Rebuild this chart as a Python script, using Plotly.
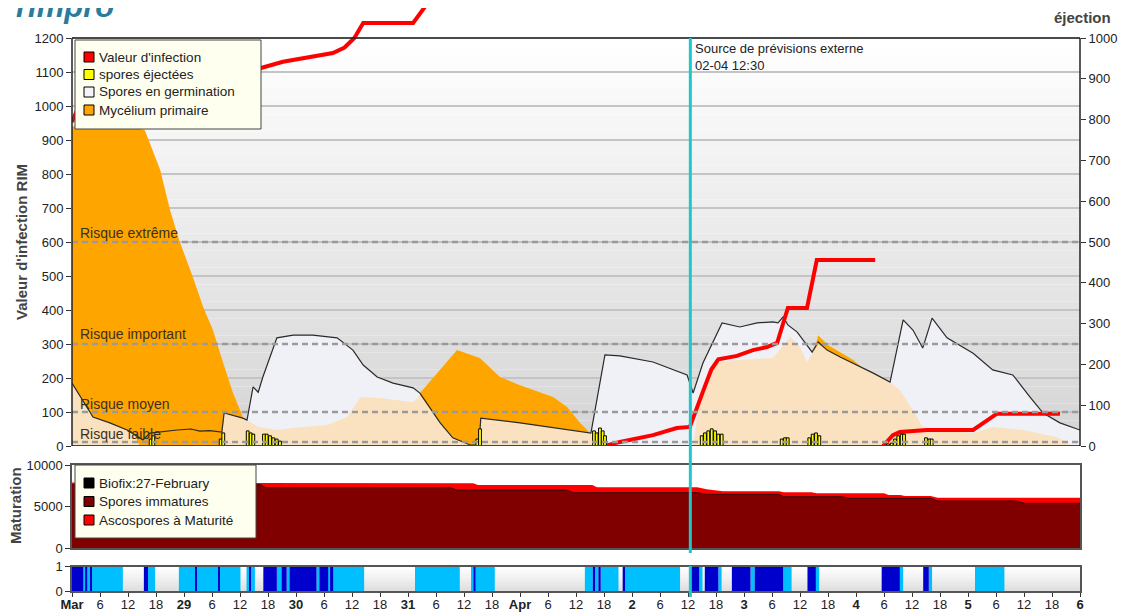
import numpy as np
import pandas as pd
import plotly.graph_objects as go

# ---------------- data (time in hours since 28 Mar 2024 00:00) ----------------
START = pd.Timestamp("2024-03-28 00:00")
END = pd.Timestamp("2024-04-06 00:00")
FORECAST = pd.Timestamp("2024-04-02 12:30")

# Spores en germination (black outline, light fill)
germ_h = [0, 4.5, 8.1, 11.8, 15.2, 16.7, 22.5, 25.5, 27.4, 29.5, 32.1, 32.6, 36.6, 37.5, 38.8, 39.9,
          40.9, 43.9, 47.4, 51.6, 56.8, 60.2, 62.4, 65.4, 68.8, 73.1, 74.6, 78.9, 81.6, 85.3, 87.2,
          87.6, 96.0, 103.1, 111.2, 114.2, 117.4, 124.5, 131.8, 133.1, 135.2, 139.3, 143.1, 146.8,
          150.2, 151.3, 152.4, 153.4, 155.4, 158.6, 159.9, 161.8, 164.6, 171.6, 174.6, 175.3, 178.1,
          180.2, 182.3, 184.3, 187.5, 193.1, 197.3, 201.6, 205.3, 208.1, 211.7, 216]
germ_v = [185, 85, 68, 47, 18, 38, 47, 50, 44, 45, 41, 97, 82, 76, 174, 158,
          203, 318, 326, 326, 318, 282, 238, 203, 185, 171, 155, 68, 24, 3, 3,
          82, 68, 53, 38, 268, 265, 247, 209, 156, 244, 362, 350, 362,
          365, 362, 380, 356, 335, 276, 306, 282, 262, 215, 194, 188, 371,
          341, 288, 376, 318, 273, 224, 209, 144, 97, 68, 47]

# light orange area
peach_h = [0, 4.5, 8.1, 11.8, 13.5, 14.5, 32.0, 32.6, 36.6, 37.5, 40.0, 43.9, 47.4, 54.7, 59.0,
           61.8, 66.1, 73.1, 74.6, 78.9, 81.6, 85.3, 87.2, 87.6, 96.0, 103.1, 111.2, 111.6, 133.1,
           134.6, 137.4, 142.5, 150.2, 153.9, 156.0, 157.5, 159.9, 161.8, 164.6, 171.6, 174.6,
           177.4, 180.2, 182.3, 186.0, 193.1, 197.3, 203.8, 211.1, 213.2, 214.3, 216]
peach_v = [185, 85, 68, 47, 30, 0, 0, 97, 82, 76, 56, 47, 53, 62, 85,
           144, 141, 129, 150, 68, 24, 3, 3, 82, 68, 53, 38, 0, 0,
           150, 244, 253, 259, 321, 291, 247, 300, 282, 262, 215, 194,
           165, 106, 56, 47, 38, 56, 47, 26, 9, 0, 0]

# Mycélium primaire
myc_h = [0, 8, 12, 15.6, 18.9, 21.0, 23.1, 25.9, 28.1, 30.2, 32.4, 34.5, 36.0, 36.6, 37.2, 74.5,
         74.6, 78.9, 82.5, 87.4, 91.7, 96.0, 103.1, 106.1, 108.9, 111.0, 111.3, 158.6, 159.0,
         159.9, 162.0, 164.6, 167.4, 170.4, 171.3, 171.5, 216]
myc_v = [940, 950, 945, 929, 812, 694, 600, 497, 409, 341, 244, 156, 106, 85, 0, 0,
         156, 224, 282, 259, 203, 179, 144, 115, 68, 38, 0, 0, 280,
         326, 297, 276, 253, 218, 212, 0, 0]

# Valeur d'infection (three infection periods)
inf1_h = [0, 1.1, 3, 10, 25, 40.5, 45.2, 55.9, 58.4, 60.5, 62.4, 73.1, 76.7, 78.5]
inf1_v = [953, 988, 1010, 1050, 1085, 1112, 1130, 1156, 1172, 1200, 1244, 1244, 1312, 1380]
inf2_h = [114.2, 117.4, 124.5, 129.6, 132.4, 133.5, 135.2, 137.0, 138.5, 142.5, 145.9, 148.9,
          151.1, 153.4, 157.5, 159.6, 172.1]
inf2_v = [0, 12, 32, 53, 56, 100, 160, 225, 255, 265, 282, 291, 303, 406, 406, 547, 547]
inf3_h = [173.8, 175.9, 177.4, 183.2, 193.1, 196.1, 198.2, 211.7]
inf3_v = [0, 32, 41, 47, 47, 76, 95, 95]

# spores éjectées (right axis)
spore_h = [16.86, 17.42, 31.86, 32.42, 37.65, 38.29, 38.85, 41.14, 41.72, 42.43, 43.14, 43.86,
           44.57, 86.85, 87.43, 111.86, 112.43, 113.14, 113.72, 114.21, 134.94, 135.64, 136.35,
           137.08, 137.79, 138.49, 139.22, 152.08, 152.79, 153.36, 157.99, 158.72, 159.43,
           160.14, 174.86, 175.65, 176.36, 177.06, 177.79, 178.29, 183.0, 183.71, 184.22]
spore_v = [17, 25, 17, 32, 37, 32, 29, 29, 29, 25, 20, 17,
           12, 17, 42, 37, 32, 44, 37, 25, 25, 32, 37,
           42, 37, 29, 29, 17, 20, 20, 20, 29, 32,
           25, 5, 7, 17, 25, 29, 29, 20, 17, 17]

# Maturation
mat_h = [0, 40.5, 41.5, 81.0, 82.5, 86.0, 87.0, 106.0, 107.5, 111.5, 112.5, 134.0, 136.0, 138.0,
         139.5, 151.5, 152.5, 158.5, 159.5, 165.0, 166.5, 174.0, 175.0, 177.5, 178.5, 184.0,
         185.5, 202.5, 204.0, 216]
mat_total = [7890, 7890, 7800, 7800, 7800, 7800, 7600, 7600, 7600, 7600, 7320, 7320, 7100, 7000,
             6850, 6850, 6720, 6720, 6600, 6600, 6600, 6600, 6400, 6400, 6280, 6280,
             6080, 6080, 6080, 6080]
mat_immature = [7620, 7620, 7280, 7280, 7000, 7000, 7000, 7000, 6680, 6680, 6680, 6680, 6480, 6480,
                6480, 6480, 6200, 6200, 6200, 6200, 6000, 6000, 6000, 6000, 6000, 6000,
                5680, 5680, 5400, 5400]

# Leaf wetness strip
wet_start = [0.0, 2.4, 2.8, 3.3, 3.9, 4.3, 15.4, 16.3, 22.9, 26.4, 26.8, 31.3, 31.7, 37.4, 38.0,
             38.3, 41.0, 43.9, 44.9, 46.0, 46.6, 52.4, 53.0, 54.9, 55.3, 56.0, 73.5, 85.6, 86.0,
             86.5, 109.9, 111.6, 112.1, 112.8, 113.3, 118.0, 118.5, 132.4, 134.4, 135.6, 138.5,
             141.4, 145.4, 146.3, 152.4, 157.6, 159.4, 173.5, 177.4, 182.4, 183.6, 193.5]
wet_end = [2.4, 2.8, 3.3, 3.9, 4.3, 10.9, 16.3, 17.8, 26.4, 26.8, 31.3, 31.7, 36.1, 38.0, 38.3,
           39.2, 43.9, 44.9, 46.0, 46.6, 52.4, 53.0, 54.9, 55.3, 56.0, 62.6, 83.1, 86.0, 86.5,
           90.6, 111.6, 112.1, 112.8, 113.3, 117.1, 118.5, 130.3, 134.4, 135.1, 138.5, 139.2,
           145.4, 146.3, 152.4, 154.2, 159.4, 160.1, 177.4, 178.1, 183.6, 184.3, 199.8]
wet_kind = ["D", "L", "D", "L", "D", "L", "D", "L", "L", "D", "L", "D", "L", "L", "D",
            "L", "D", "L", "D", "L", "D", "L", "D", "L", "D", "L", "L", "L", "D",
            "L", "L", "D", "L", "D", "L", "D", "L", "D", "L", "D", "L",
            "D", "L", "D", "L", "D", "L", "D", "L", "D", "L", "L"]

risk_levels = [600, 300, 100, 12]
risk_labels = ["Risque extrême", "Risque important", "Risque moyen", "Risque faible"]
risk_label_y = [626, 329, 124, 35]

legend1_names = ["Valeur d'infection", "spores éjectées", "Spores en germination", "Mycélium primaire"]
legend1_colors = ["#FF0000", "#FFFF00", "#F4F4F8", "#FFA500"]
legend2_names = ["Biofix:27-February", "Spores immatures", "Ascospores à Maturité"]
legend2_colors = ["#000000", "#800000", "#FF0000"]

tick_hours = list(range(0, 217, 6))
day_labels = {0: "Mar", 24: "29", 48: "30", 72: "31", 96: "Apr", 120: "2", 144: "3", 168: "4",
              192: "5", 216: "6"}


def T(hours):
    return [START + pd.Timedelta(hours=float(h)) for h in hours]


# ---------------- geometry (page pixels -> paper); page has an 8px body margin ----------------
OFF = 8
W, H = 1132 - OFF, 614 - OFF
PLOT_L, PLOT_R = 72, 1080           # page px
PLOT_T, PLOT_B = 8, 591             # page px (top of figure .. bottom of strip)
ML, MR = PLOT_L - OFF, 1132 - PLOT_R
MT, MB = PLOT_T - OFF, 614 - PLOT_B
PW, PH = PLOT_R - PLOT_L, PLOT_B - PLOT_T


def pyp(p):
    return (PLOT_B - p) / PH


def pxp(p):
    return (p - PLOT_L) / PW


MAIN_TOP_PX, MAIN_BOT_PX = 38, 446
scale = (MAIN_BOT_PX - MAIN_TOP_PX) / 1200.0
y_top = (MAIN_BOT_PX - PLOT_T) / scale
y2_top = y_top * 1000 / 1200

FONT = "Arial, Liberation Sans, sans-serif"
fig = go.Figure()

# --- main panel ---
fig.add_trace(go.Scatter(x=T(germ_h), y=germ_v, mode="lines", fill="tozeroy",
                         fillcolor="#F0F0F7", line=dict(width=0), showlegend=False,
                         hoverinfo="skip"))
fig.add_trace(go.Scatter(x=T(myc_h), y=myc_v, mode="lines", fill="tozeroy",
                         fillcolor="#FFA500", line=dict(width=0), showlegend=False,
                         hoverinfo="skip"))
fig.add_trace(go.Scatter(x=T(peach_h), y=peach_v, mode="lines", fill="tozeroy",
                         fillcolor="#FAE2C0", line=dict(width=0), showlegend=False,
                         hoverinfo="skip"))
fig.add_trace(go.Scatter(x=T(germ_h), y=germ_v, mode="lines",
                         line=dict(color="#2a2a2a", width=1.2), showlegend=False,
                         hoverinfo="skip"))

inf_x = T(inf1_h) + [None] + T(inf2_h) + [None] + T(inf3_h)
inf_y = inf1_v + [None] + inf2_v + [None] + inf3_v
fig.add_trace(go.Scatter(x=inf_x, y=inf_y, mode="lines", connectgaps=False,
                         line=dict(color="#FF0000", width=4), showlegend=False,
                         hoverinfo="skip"))

fig.add_trace(go.Bar(x=T(spore_h), y=spore_v, yaxis="y2", width=0.6 * 3600 * 1000,
                     marker=dict(color="#FFFF00", line=dict(color="#000000", width=1)),
                     showlegend=False, hoverinfo="skip"))

# --- maturation panel ---
fig.add_trace(go.Scatter(x=T(mat_h), y=mat_total, xaxis="x2", yaxis="y3", mode="lines",
                         fill="tozeroy", fillcolor="#FF0000", line=dict(width=0, color="#FF0000"),
                         showlegend=False, hoverinfo="skip"))
fig.add_trace(go.Scatter(x=T(mat_h), y=mat_immature, xaxis="x2", yaxis="y3", mode="lines",
                         fill="tozeroy", fillcolor="#800000", line=dict(width=0.8, color="#1a0000"),
                         showlegend=False, hoverinfo="skip"))

# --- wetness strip ---
wet_colors = {"D": "#0000CD", "L": "#00BFFF"}
for kind in ["L", "D"]:
    idx = [i for i, k in enumerate(wet_kind) if k == kind]
    mids = [START + pd.Timedelta(hours=(wet_start[i] + wet_end[i]) / 2) for i in idx]
    widths = [(wet_end[i] - wet_start[i]) * 3600 * 1000 for i in idx]
    fig.add_trace(go.Bar(x=mids, y=[1] * len(idx), width=widths, xaxis="x3", yaxis="y4",
                         marker=dict(color=wet_colors[kind], line=dict(width=0)),
                         showlegend=False, hoverinfo="skip"))

# ---------------- shapes ----------------
shapes = []
N = 48
for i in range(N):
    g = int(round(212 + (255 - 212) * (i + 0.5) / N))
    shapes.append(dict(type="rect", xref="x domain", yref="y", x0=0, x1=1,
                       y0=1200 * i / N, y1=1200 * (i + 1) / N, layer="below",
                       fillcolor=f"rgb({g},{g},{g})", line=dict(width=0)))
NB = 12
for i in range(NB):
    g = int(round(222 + (255 - 222) * (i + 0.5) / NB))
    shapes.append(dict(type="rect", xref="x3 domain", yref="y4", x0=0, x1=1,
                       y0=i / NB, y1=(i + 1) / NB, layer="below",
                       fillcolor=f"rgb({g},{g},{g})", line=dict(width=0)))
for lv in risk_levels:
    shapes.append(dict(type="line", xref="x domain", yref="y", x0=0, x1=1, y0=lv, y1=lv,
                       layer="above", line=dict(color="#9a9a9a", width=2.5, dash="6px,4px")))
shapes += [
    dict(type="line", xref="x domain", yref="y", x0=0, x1=1, y0=1200, y1=1200,
         line=dict(color="#222", width=1.5), layer="above"),
    dict(type="line", xref="x domain", yref="y", x0=0, x1=1, y0=0, y1=0,
         line=dict(color="#444", width=2), layer="above"),
    dict(type="line", xref="x domain", yref="y", x0=0, x1=0, y0=0, y1=1200,
         line=dict(color="#222", width=1.5), layer="above"),
    dict(type="line", xref="x domain", yref="y", x0=1, x1=1, y0=0, y1=1200,
         line=dict(color="#222", width=1.5), layer="above"),
]
shapes.append(dict(type="line", xref="x", yref="paper", x0=FORECAST, x1=FORECAST,
                   y0=pyp(553), y1=pyp(38), line=dict(color="#1CC8CC", width=3), layer="above"))
shapes.append(dict(type="line", xref="x", yref="paper", x0=FORECAST, x1=FORECAST,
                   y0=pyp(597), y1=pyp(566), line=dict(color="#1CC8CC", width=3), layer="above"))

ann = []


def draw_legend(box, names, colors, y_centers):
    x0, y0, x1, y1 = box
    shapes.append(dict(type="rect", xref="paper", yref="paper", x0=pxp(x0), x1=pxp(x1),
                       y0=pyp(y1), y1=pyp(y0), fillcolor="#FFFFF0",
                       line=dict(color="#444", width=1), layer="above"))
    for name, col, yc in zip(names, colors, y_centers):
        shapes.append(dict(type="rect", xref="paper", yref="paper", x0=pxp(84), x1=pxp(94),
                           y0=pyp(yc + 5), y1=pyp(yc - 5), fillcolor=col,
                           line=dict(color="#000", width=1), layer="above"))
        ann.append(dict(text=name, xref="paper", yref="paper", x=pxp(97), y=pyp(yc),
                        xanchor="left", yanchor="middle", showarrow=False,
                        font=dict(size=13.5, color="#222")))


draw_legend((75, 40, 261, 129), legend1_names, legend1_colors, [57, 74.5, 92, 110])
draw_legend((75, 465, 256, 538), legend2_names, legend2_colors, [483, 501.5, 520])

for lab, yv in zip(risk_labels, risk_label_y):
    ann.append(dict(text=lab, xref="paper", yref="y", x=pxp(78), y=yv, xanchor="left",
                    yanchor="middle", showarrow=False, font=dict(size=14, color="#3b3020")))
ann.append(dict(text="Source de prévisions externe<br>02-04 12:30", xref="x", yref="paper",
                x=FORECAST, y=pyp(39), xanchor="left", yanchor="top", xshift=3, align="left",
                showarrow=False, font=dict(size=13, color="#222")))
ann.append(dict(text="<b>Valeur d'infection RIM</b>", xref="paper", yref="paper", x=pxp(21),
                y=pyp(242), xanchor="center", yanchor="middle", textangle=-90, showarrow=False,
                font=dict(size=15, color="#444")))
ann.append(dict(text="<b>Maturation</b>", xref="paper", yref="paper", x=pxp(15),
                y=pyp(506), xanchor="center", yanchor="middle", textangle=-90, showarrow=False,
                font=dict(size=15, color="#444")))
ann.append(dict(text="<b>éjection</b>", xref="paper", yref="paper", x=pxp(1082), y=pyp(17),
                xanchor="center", yanchor="middle", showarrow=False,
                font=dict(size=15, color="#444")))
ann.append(dict(text="<b>Venturia 3.0 - Mezières - 2024</b>", xref="paper", yref="paper",
                x=pxp(553), y=pyp(13), xanchor="center", yanchor="bottom", showarrow=False,
                font=dict(size=20, color="#333")))
ann.append(dict(text="<b><i>rimpro</i></b>", xref="paper", yref="paper", x=pxp(14), y=pyp(26),
                xanchor="left", yanchor="bottom", showarrow=False,
                font=dict(size=31, color="#2B7C9C")))

ticktext = [f"<b>{day_labels[h]}</b>" if h in day_labels else str(h % 24) for h in tick_hours]

axis_font = dict(size=13, color="#222")
fig.update_layout(
    width=W, height=H, margin=dict(l=ML, r=MR, t=MT, b=MB, autoexpand=False),
    paper_bgcolor="white", plot_bgcolor="white",
    font=dict(family=FONT, size=13, color="#222"),
    barmode="overlay", hovermode=False, showlegend=False,
    xaxis=dict(domain=[0, 1], anchor="y", range=[START, END], type="date",
               showticklabels=False, ticks="", showgrid=False, zeroline=False),
    yaxis=dict(domain=[pyp(MAIN_BOT_PX), 1], range=[0, y_top], tickvals=list(range(0, 1201, 100)),
               ticks="outside", ticklen=5, tickcolor="#333", showgrid=True, gridcolor="#c4c4c4",
               gridwidth=1.5, zeroline=False, showline=False, tickfont=axis_font),
    yaxis2=dict(overlaying="y", side="right", anchor="x", range=[0, y2_top],
                tickvals=list(range(0, 1001, 100)), ticks="outside", ticklen=5, tickcolor="#333",
                showgrid=False, zeroline=False, showline=False, tickfont=axis_font),
    xaxis2=dict(domain=[0, 1], anchor="y3", matches="x", type="date", showticklabels=False,
                ticks="", showgrid=False, zeroline=False, showline=True, mirror=True,
                linecolor="#555", linewidth=1.5),
    yaxis3=dict(domain=[pyp(548.3), pyp(465)], anchor="x2", range=[0, 10000],
                tickvals=[0, 5000, 10000], ticktext=["0", "5000", "10000"], ticks="outside",
                ticklen=5, tickcolor="#333", showgrid=False, zeroline=False, showline=True,
                mirror=True, linecolor="#555", linewidth=1.5, tickfont=axis_font),
    xaxis3=dict(domain=[0, 1], anchor="y4", matches="x", type="date",
                tickvals=T(tick_hours), ticktext=ticktext, ticks="outside", ticklen=4,
                ticklabelstandoff=-3,
                tickcolor="#333", showgrid=False, zeroline=False, showline=True, mirror=True,
                linecolor="#555", linewidth=1.5, tickfont=dict(size=13, color="#222"),
                tickangle=0),
    yaxis4=dict(domain=[0, pyp(566.7)], anchor="x3", range=[0, 1], tickvals=[0, 1],
                ticks="outside", ticklen=5, tickcolor="#333", showgrid=False, zeroline=False,
                showline=True, mirror=True, linecolor="#555", linewidth=1.5, tickfont=axis_font),
    shapes=shapes, annotations=ann,
)

fig.write_html("out.html")
